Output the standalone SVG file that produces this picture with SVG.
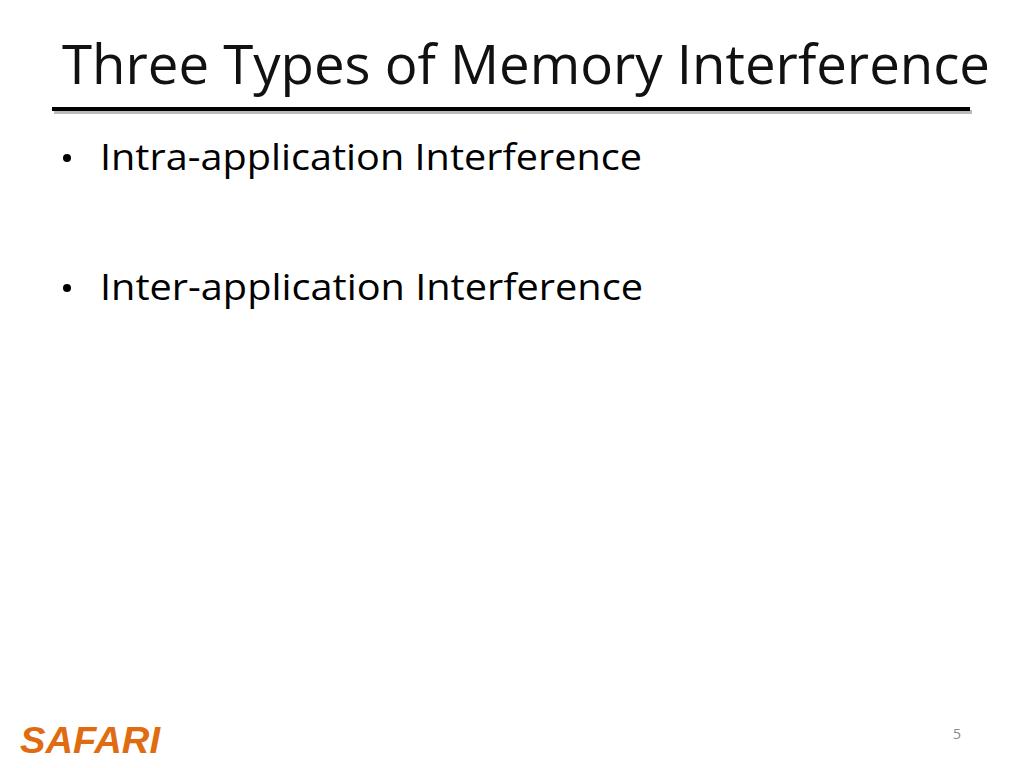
<svg xmlns="http://www.w3.org/2000/svg" width="1024" height="768" viewBox="0 0 1024 768">
<style>
text{font-family:"Open Sans","Liberation Sans",sans-serif;fill:#000}
.b{font-size:36px}
</style>
<rect width="1024" height="768" fill="#fff"/>
<g id="title"><text x="62" y="84" font-size="55" textLength="928" lengthAdjust="spacingAndGlyphs" style="fill:#111">Three Types of Memory Interference</text></g>
<line x1="54" y1="112" x2="972" y2="112" stroke="#bbb" stroke-width="4"/>
<line x1="52" y1="109" x2="970" y2="109" stroke="#000" stroke-width="4"/>
<g id="bullet1"><circle cx="67" cy="158" r="4" fill="#000"/><text x="100" y="170" class="b" textLength="542" lengthAdjust="spacingAndGlyphs">Intra-application Interference</text></g>
<g id="bullet2"><circle cx="67" cy="288" r="4" fill="#000"/><text x="100" y="300" class="b" textLength="543" lengthAdjust="spacingAndGlyphs">Inter-application Interference</text></g>
<g id="logo"><text x="20" y="753" font-size="36" font-weight="bold" font-style="italic" style="fill:#e06c12;font-family:'Liberation Sans',sans-serif" textLength="140" lengthAdjust="spacingAndGlyphs">SAFARI</text></g>
<g id="page"><text x="953" y="739" font-size="14" style="fill:#888">5</text></g>
</svg>
